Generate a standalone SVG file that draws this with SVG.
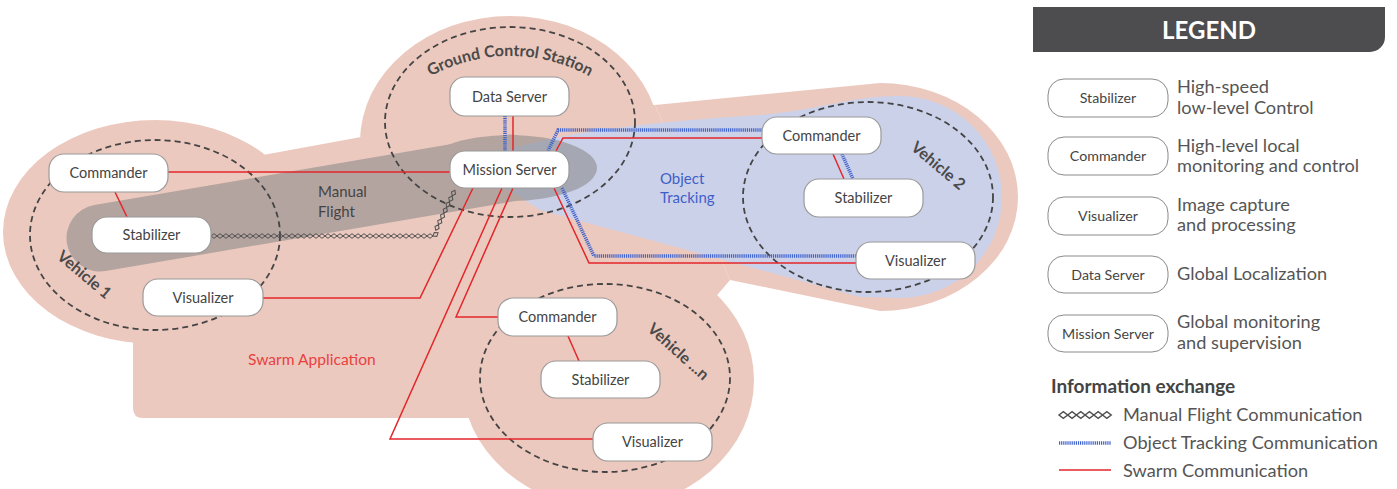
<svg xmlns="http://www.w3.org/2000/svg" width="1397" height="489" viewBox="0 0 1397 489">
<defs>
<style>
text{font-family:Lato,"Liberation Sans",sans-serif}
.node rect{fill:#fff;stroke:#9a9a9a;stroke-width:1.2}
.node text{font-size:14.5px;fill:#444;text-anchor:middle}
.lnode rect{fill:#fff;stroke:#8a8a8a;stroke-width:1}
.lnode text{font-size:14.2px;fill:#444;text-anchor:middle}
.grp{fill:none;stroke:#444;stroke-width:1.8;stroke-dasharray:6 4}
.glabel{font-size:16px;font-weight:700;fill:#4a4a4a}
.red{fill:none;stroke:#e3262b;stroke-width:1.5}
.blue{fill:none;stroke:#3f63cc;stroke-width:3.5;stroke-dasharray:1.2 0.9}
.manual{fill:none;stroke:none;marker-start:url(#dia);marker-mid:url(#dia)}
.pink{fill:#ecc9bf}
.ltxt{font-size:18.2px;fill:#555}
</style>
<marker id="dia" markerUnits="userSpaceOnUse" markerWidth="7" markerHeight="7" viewBox="0 -3 7 6" refX="0" refY="0" orient="auto" overflow="visible">
<path d="M0,0 L3,-2.3 L6,0 L3,2.3 Z" fill="none" stroke="#505050" stroke-width="1"/>
</marker>
<path id="gcsArc" d="M 420,82.7 A 165 165 0 0 1 600,82.7"/>
</defs>

<g id="backgrounds">
<ellipse class="pink" cx="155" cy="232" rx="152" ry="112"/>
<ellipse class="pink" cx="510" cy="142" rx="150" ry="126"/>
<ellipse class="pink" cx="608" cy="380" rx="146" ry="128"/>
<path class="pink" d="M655,105 L880,83 A138 114 0 0 1 880,311 L730,280 Z"/>
<path class="pink" d="M263,155 L361,137 L655,105 L730,280 L713,300 L470,418 L143,418 Q133,418 133,408 L133,330 L200,300 Z"/>
<path fill="#ccd1ea" d="M470,165 C520,140 600,125 760,115 C820,110 850,96 900,96 A102 101 0 0 1 900,298 L860,297 L540,210 Z"/>
<g opacity="0.55">
<line x1="100" y1="238" x2="510" y2="168" stroke="#878787" stroke-width="67" stroke-linecap="round"/>
<ellipse cx="510" cy="168" rx="87" ry="33" fill="#878787"/>
</g>
<text x="318" y="197" font-size="15" fill="#444">Manual</text>
<text x="318" y="217" font-size="15" fill="#444">Flight</text>
<text x="660" y="184" font-size="15" fill="#3f60c8">Object</text>
<text x="660" y="203" font-size="15" fill="#3f60c8">Tracking</text>
<text x="248" y="365" font-size="15.6" fill="#e8413f">Swarm Application</text>
</g>

<g id="groups">
<ellipse class="grp" cx="155" cy="235" rx="125" ry="95"/>
<ellipse class="grp" cx="510" cy="122" rx="125" ry="95"/>
<ellipse class="grp" cx="868" cy="197" rx="125" ry="95"/>
<ellipse class="grp" cx="605" cy="378" rx="125" ry="94"/>
<text class="glabel"><textPath href="#gcsArc" startOffset="50%" text-anchor="middle">Ground Control Station</textPath></text>
<text class="glabel" transform="translate(84,275) rotate(40)" y="5" text-anchor="middle">Vehicle 1</text>
<text class="glabel" transform="translate(938,166) rotate(40)" y="5" text-anchor="middle">Vehicle 2</text>
<text class="glabel" transform="translate(678,352) rotate(42)" y="5" text-anchor="middle">Vehicle ...n</text>
</g>

<g id="connectors">
<path class="red" d="M168,172 H450"/>
<path class="red" d="M115,192 L127,217"/>
<path class="red" d="M263,298 H420 L473,188"/>
<path class="red" d="M513,188 L456,317 H498"/>
<path class="red" d="M502,188 L390,439 H593"/>
<path class="red" d="M556,151 L563,138 H762"/>
<path class="red" d="M554,188 L589,263 H856"/>
<path class="red" d="M513,116 V151"/>
<path class="red" d="M833,154 L844,179"/>
<path class="red" d="M568,336 L579,361"/>
<path class="blue" d="M548,151 L558,130 H762"/>
<path class="blue" d="M562,188 L594,256 H856"/>
<path class="blue" d="M505,116 V151"/>
<path class="blue" d="M842,154 L853,179"/>
<path class="manual" d="M211,236 h6 h6 h6 h6 h6 h6 h6 h6 h6 h6 h6 h6 h6 h6 h6 h6 h6 h6 h6 h6 h6 h6 h6 h6 h6 h6 h6 h6 h6 h6 h6 h6 h6 h6 h6 h6 h6 l2.75,-5.75 l2.75,-5.75 l2.75,-5.75 l2.75,-5.75 l2.75,-5.75 l2.75,-5.75 l2.75,-5.75 l2.75,-5.75"/>
</g>

<g id="v1-commander" class="node"><rect x="49" y="154" width="119" height="38" rx="15"/><text x="108.5" y="178">Commander</text></g>
<g id="v1-stabilizer" class="node"><rect x="92" y="217" width="119" height="36" rx="15"/><text x="151.5" y="240">Stabilizer</text></g>
<g id="v1-visualizer" class="node"><rect x="143" y="279" width="120" height="37" rx="15"/><text x="203" y="302.5">Visualizer</text></g>
<g id="gcs-data-server" class="node"><rect x="450" y="77" width="119" height="39" rx="15"/><text x="509.5" y="101.5">Data Server</text></g>
<g id="gcs-mission-server" class="node"><rect x="450" y="151" width="119" height="37" rx="15"/><text x="509.5" y="174.5">Mission Server</text></g>
<g id="v2-commander" class="node"><rect x="762" y="117" width="119" height="37" rx="15"/><text x="821.5" y="140.5">Commander</text></g>
<g id="v2-stabilizer" class="node"><rect x="804" y="179" width="119" height="38" rx="15"/><text x="863.5" y="203">Stabilizer</text></g>
<g id="v2-visualizer" class="node"><rect x="856" y="242" width="119" height="37" rx="15"/><text x="915.5" y="265.5">Visualizer</text></g>
<g id="vn-commander" class="node"><rect x="498" y="298" width="119" height="38" rx="15"/><text x="557.5" y="322">Commander</text></g>
<g id="vn-stabilizer" class="node"><rect x="541" y="361" width="119" height="37" rx="15"/><text x="600.5" y="384.5">Stabilizer</text></g>
<g id="vn-visualizer" class="node"><rect x="593" y="423" width="119" height="38" rx="15"/><text x="652.5" y="447">Visualizer</text></g>

<g id="legend">
<path d="M1033,7 H1385 V37 A15 15 0 0 1 1370,52 H1033 Z" fill="#4d4d4f"/>
<text x="1209" y="38.5" font-size="24" font-weight="700" fill="#fff" text-anchor="middle">LEGEND</text>
<g class="lnode"><rect x="1048" y="79" width="120" height="38" rx="16"/><text x="1108" y="103">Stabilizer</text></g>
<text class="ltxt" x="1177" y="93">High-speed</text>
<text class="ltxt" x="1177" y="114">low-level Control</text>
<g class="lnode"><rect x="1048" y="137" width="120" height="38" rx="16"/><text x="1108" y="161">Commander</text></g>
<text class="ltxt" x="1177" y="152">High-level local</text>
<text class="ltxt" x="1177" y="172">monitoring and control</text>
<g class="lnode"><rect x="1048" y="197" width="120" height="38" rx="16"/><text x="1108" y="221">Visualizer</text></g>
<text class="ltxt" x="1177" y="211">Image capture</text>
<text class="ltxt" x="1177" y="231">and processing</text>
<g class="lnode"><rect x="1048" y="256" width="120" height="37" rx="16"/><text x="1108" y="280">Data Server</text></g>
<text class="ltxt" x="1177" y="280">Global Localization</text>
<g class="lnode"><rect x="1048" y="315" width="120" height="37" rx="16"/><text x="1108" y="339">Mission Server</text></g>
<text class="ltxt" x="1177" y="328">Global monitoring</text>
<text class="ltxt" x="1177" y="349">and supervision</text>
<text x="1051" y="393" font-size="19" font-weight="700" fill="#444">Information exchange</text>
<g transform="translate(1059,415) scale(1.45)"><path class="manual" d="M0,0 h6 h6 h6 h6 h6 h6"/></g>
<text class="ltxt" x="1123" y="421">Manual Flight Communication</text>
<path class="blue" d="M1059,443 H1111"/>
<text class="ltxt" x="1123" y="449">Object Tracking Communication</text>
<path class="red" d="M1059,470 H1111"/>
<text class="ltxt" x="1123" y="477">Swarm Communication</text>
</g>
</svg>
